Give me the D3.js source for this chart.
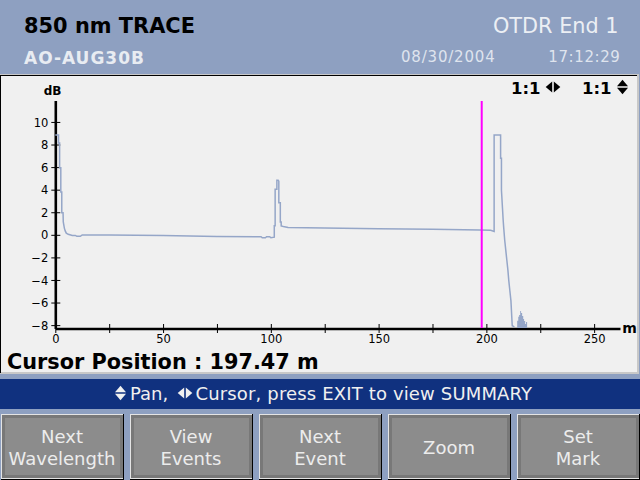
<!DOCTYPE html>
<html>
<head>
<meta charset="utf-8">
<script src="https://cdn.jsdelivr.net/npm/d3@7"></script>
<style>
  html, body { margin: 0; padding: 0; background: #8ea0c1; overflow: hidden; }
  svg { display: block; font-family: "DejaVu Sans", sans-serif; }
</style>
</head>
<body>
<script>
// Trace: distance (m) and level (dB)
var traceDistance = [0, 1.5, 1.5, 2, 2, 2.55, 2.55, 3, 3, 3.6, 3.7, 4.2, 4.6, 5.1, 6, 7.9, 9.3, 10, 11.6, 12.5,
  25, 50, 75, 94, 95.5, 96, 97.5, 98, 99.5, 100, 101.6, 101.6, 102, 102, 102.8, 102.8, 103.4, 103.7, 103.7, 104.4, 104.4, 104.8, 104.8, 105.8, 108,
  125, 150, 175, 197, 202, 203.6, 203.6, 206.6, 206.6, 207, 207, 207.8, 208, 208.5, 209, 209.5, 210, 210.4, 210.9, 211.4, 212, 213];
var traceLevel = [8.8, 8.8, 8.1, 8.1, 5.9, 5.9, 3.75, 3.75, 1.9, 1.9, 1.1, 0.55, 0.3, 0.1, 0, -0.1, -0.1, -0.18, -0.18, -0.05,
  -0.05, -0.1, -0.2, -0.22, -0.22, -0.3, -0.3, -0.22, -0.22, -0.3, -0.25, 0.75, 0.75, 4, 4, 4.8, 4.8, 4.7, 2.8, 2.8, 1.1, 1.1, 0.75, 0.7, 0.6,
  0.55, 0.5, 0.45, 0.38, 0.35, 0.25, 8.8, 8.8, 6.75, 6.75, 3.9, 1.25, 0.7, -0.5, -1.4, -2.3, -3.2, -4.1, -5, -5.9, -8.1, -8.2];

// Noise bump after the end of the fibre
var noiseDistance = [214.3, 214.8, 215.2, 215.7, 216.1, 216.6, 217.1, 217.5, 218, 218.4, 218.9];
var noiseLevel = [-7.66, -7.3, -7.15, -6.8, -6.98, -7.24, -7.5, -7.69, -7.95, -7.77, -8.2];

var cursorPosition = 197.47;
var yTicks = [-8, -6, -4, -2, 0, 2, 4, 6, 8, 10];
var xTicks = [0, 25, 50, 75, 100, 125, 150, 175, 200, 225, 250];
var buttonLabels = [["Next", "Wavelength"], ["View", "Events"], ["Next", "Event"], ["Zoom"], ["Set", "Mark"]];

var w = 640;
var h = 480;
var traceColor = "#95a6c8";

var svg = d3.select("body").append("svg").attr("width", w).attr("height", h);

function label(x, y, str, size, weight, fill, anchor, spacing) {
  return svg.append("text")
    .attr("x", x).attr("y", y)
    .attr("font-size", size)
    .attr("font-weight", weight)
    .attr("fill", fill)
    .attr("text-anchor", anchor || "start")
    .attr("letter-spacing", spacing || 0)
    .text(str);
}

// diamond split in two triangles, pointing left/right or up/down
function arrows(cx, cy, horizontal, fill) {
  var long = 6.5, half = 5.5, gap = 0.8;
  [-1, 1].forEach(function(s) {
    var p = d3.path();
    if (horizontal) {
      p.moveTo(cx + s * gap, cy - half);
      p.lineTo(cx + s * (gap + long), cy);
      p.lineTo(cx + s * gap, cy + half);
    } else {
      p.moveTo(cx - half, cy + s * gap);
      p.lineTo(cx, cy + s * (gap + long));
      p.lineTo(cx + half, cy + s * gap);
    }
    p.closePath();
    svg.append("path").attr("d", p.toString()).attr("fill", fill);
  });
}

// Header
svg.append("rect").attr("width", w).attr("height", h).attr("fill", "#8ea0c1");
label(24, 33, "850 nm TRACE", 20.9, "bold", "#000");
label(24, 63.5, "AO-AUG30B", 17, "bold", "#e8ecf2", "start", 1);
label(618.5, 33, "OTDR End 1", 20.8, "normal", "#eceff4", "end");
label(495.5, 62, "08/30/2004", 15, "normal", "#dfe4ee", "end", 0.8);
label(620.5, 62, "17:12:29", 15, "normal", "#dfe4ee", "end", 0.6);

// Plot panel
svg.append("rect").attr("x", 0).attr("y", 74).attr("width", 639).attr("height", 300).attr("fill", "#c8c8c8");
svg.append("rect").attr("x", 0).attr("y", 75).attr("width", 638).attr("height", 298).attr("fill", "#000");
svg.append("rect").attr("x", 1).attr("y", 76).attr("width", 636).attr("height", 296.5).attr("fill", "#f0f0f0");
svg.append("rect").attr("x", 1).attr("y", 372).attr("width", 638).attr("height", 2).attr("fill", "#c8c8c8");
svg.append("rect").attr("x", 637).attr("y", 75).attr("width", 2).attr("height", 299).attr("fill", "#c8c8c8");

var xScale = d3.scaleLinear().domain([0, 262]).range([55.3, 620]);
var yScale = d3.scaleLinear().domain([-8.3, 11.9]).range([328, 100]);

var xAxis = d3.axisBottom(xScale)
  .tickValues(xTicks)
  .tickSize(0)
  .tickFormat(function(d) { return d % 50 === 0 ? d : ""; });
var yAxis = d3.axisLeft(yScale)
  .tickValues(yTicks)
  .tickSize(0);

var gx = svg.append("g").attr("transform", "translate(0,328.5)").call(xAxis);
var gy = svg.append("g").attr("transform", "translate(55.3,0.5)").call(yAxis);

[gx, gy].forEach(function(g) {
  g.selectAll("text").attr("font-family", "DejaVu Sans").attr("font-size", 11.5).attr("fill", "#000");
  g.select(".domain").attr("stroke", "#000").attr("stroke-width", 2.6);
});
gx.selectAll(".tick line").attr("stroke", "#000").attr("y1", -4.5).attr("y2", 4.5);
gx.selectAll(".tick text").attr("y", 14.5).attr("dy", 0).attr("dominant-baseline", "auto");
gy.selectAll(".tick line").attr("stroke", "#000").attr("x1", -4).attr("x2", 5);
gy.selectAll(".tick text").attr("x", -7).attr("dy", "0.36em");

// Trace
var line = d3.line()
  .x(function(d) { return xScale(d[0]); })
  .y(function(d) { return yScale(d[1]); });

svg.append("path")
  .datum(d3.zip(traceDistance, traceLevel))
  .attr("d", line)
  .attr("fill", "none")
  .attr("stroke", traceColor)
  .attr("stroke-width", 1.5);

var noiseArea = d3.area()
  .curve(d3.curveStepAfter)
  .x(function(d) { return xScale(d[0]); })
  .y0(yScale(-8.3))
  .y1(function(d) { return yScale(d[1]); });

svg.append("path")
  .datum(d3.zip(noiseDistance, noiseLevel))
  .attr("d", noiseArea)
  .attr("fill", traceColor);

// Cursor
svg.append("line")
  .attr("x1", xScale(cursorPosition) + 0.8).attr("x2", xScale(cursorPosition) + 0.8)
  .attr("y1", 101).attr("y2", yScale(-8.3))
  .attr("stroke", "#ff00ff")
  .attr("stroke-width", 2);

// Labels in the panel
label(52.5, 95, "dB", 12, "bold", "#000", "middle");
label(629.5, 333, "m", 14, "bold", "#000", "middle");
label(511, 93.5, "1:1", 16.5, "bold", "#000");
arrows(553, 87, true, "#000");
label(582, 93.5, "1:1", 16.5, "bold", "#000");
arrows(622.5, 87, false, "#000");
label(7, 368.5, "Cursor Position : " + cursorPosition + " m", 20.8, "bold", "#000");

// Message bar
svg.append("rect").attr("x", 0).attr("y", 379).attr("width", w).attr("height", 30).attr("fill", "#10317f");
arrows(120.5, 393, false, "#f0f0f0");
label(130, 399.5, "Pan,", 18, "normal", "#f0f0f0");
arrows(185, 393, true, "#f0f0f0");
label(195.5, 399.5, "Cursor, press EXIT to view SUMMARY", 18, "normal", "#f0f0f0", "start", 0.15);

// Buttons
var buttonW = 123;
var buttonStep = 129;
buttonLabels.forEach(function(lines, i) {
  var x = 1 + i * buttonStep;
  svg.append("rect").attr("x", x).attr("y", 414).attr("width", buttonW).attr("height", 66).attr("fill", "#000");
  svg.append("rect").attr("x", x).attr("y", 414).attr("width", buttonW - 1).attr("height", 65).attr("fill", "#e4e4e4");
  svg.append("rect").attr("x", x + 1).attr("y", 415).attr("width", buttonW - 2).attr("height", 63).attr("fill", "#787878");
  svg.append("rect").attr("x", x + 4).attr("y", 418).attr("width", buttonW - 8).attr("height", 57).attr("fill", "#8c8c8c");
  var cx = x + buttonW / 2 - 0.5;
  if (lines.length === 1) {
    label(cx, 454, lines[0], 18, "normal", "#ececec", "middle");
  } else {
    label(cx, 443, lines[0], 18, "normal", "#ececec", "middle");
    label(cx, 465, lines[1], 18, "normal", "#ececec", "middle");
  }
});
</script>
</body>
</html>
